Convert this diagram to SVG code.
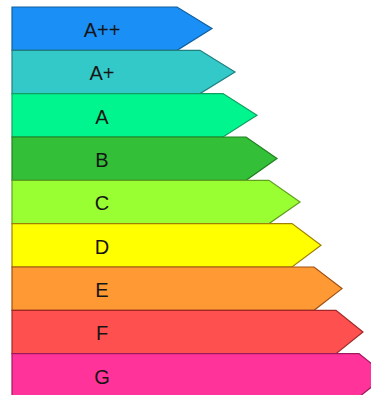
<svg xmlns="http://www.w3.org/2000/svg" width="371" height="395" viewBox="0 0 371 395">
<style>
.bar{stroke-width:1.2;stroke-linejoin:miter}
.lbl{font-family:"Liberation Sans",Arial,sans-serif;font-size:20px;text-anchor:middle;fill:#151515}
</style>
<rect width="371" height="395" fill="#fff"/>
<g id="A2"><polygon class="bar" points="12,7 177,7 212,28.6 177,50.3 12,50.3" fill="#1a8ff5" stroke="#1060a0"/><text class="lbl" x="102" y="37">A++</text></g>
<g id="A1"><polygon class="bar" points="12,50.3 200,50.3 235,72 200,93.6 12,93.6" fill="#33c9c9" stroke="#208080"/><text class="lbl" x="102" y="80.3">A+</text></g>
<g id="A"><polygon class="bar" points="12,93.6 223,93.6 257,115.3 223,137 12,137" fill="#00f58f" stroke="#10a060"/><text class="lbl" x="102" y="123.6">A</text></g>
<g id="B"><polygon class="bar" points="12,137 246,137 277,158.6 246,180.3 12,180.3" fill="#33c038" stroke="#208020"/><text class="lbl" x="102" y="167">B</text></g>
<g id="C"><polygon class="bar" points="12,180.3 269,180.3 300,202 269,223.6 12,223.6" fill="#99ff33" stroke="#60a020"/><text class="lbl" x="102" y="210.3">C</text></g>
<g id="D"><polygon class="bar" points="12,223.6 292,223.6 321,245.3 292,267 12,267" fill="#ffff00" stroke="#a08000"/><text class="lbl" x="102" y="253.6">D</text></g>
<g id="E"><polygon class="bar" points="12,267 314,267 342,288.6 314,310.3 12,310.3" fill="#ff9933" stroke="#a05010"/><text class="lbl" x="102" y="297">E</text></g>
<g id="F"><polygon class="bar" points="12,310.3 336,310.3 363,332 336,353.6 12,353.6" fill="#ff5050" stroke="#a02828"/><text class="lbl" x="102" y="340.3">F</text></g>
<g id="G"><polygon class="bar" points="12,353.6 359,353.6 386,375.3 359,397 12,397" fill="#ff3399" stroke="#a01860"/><text class="lbl" x="102" y="383.6" fill="#301030">G</text></g>
<g id="connectors"/>
</svg>
